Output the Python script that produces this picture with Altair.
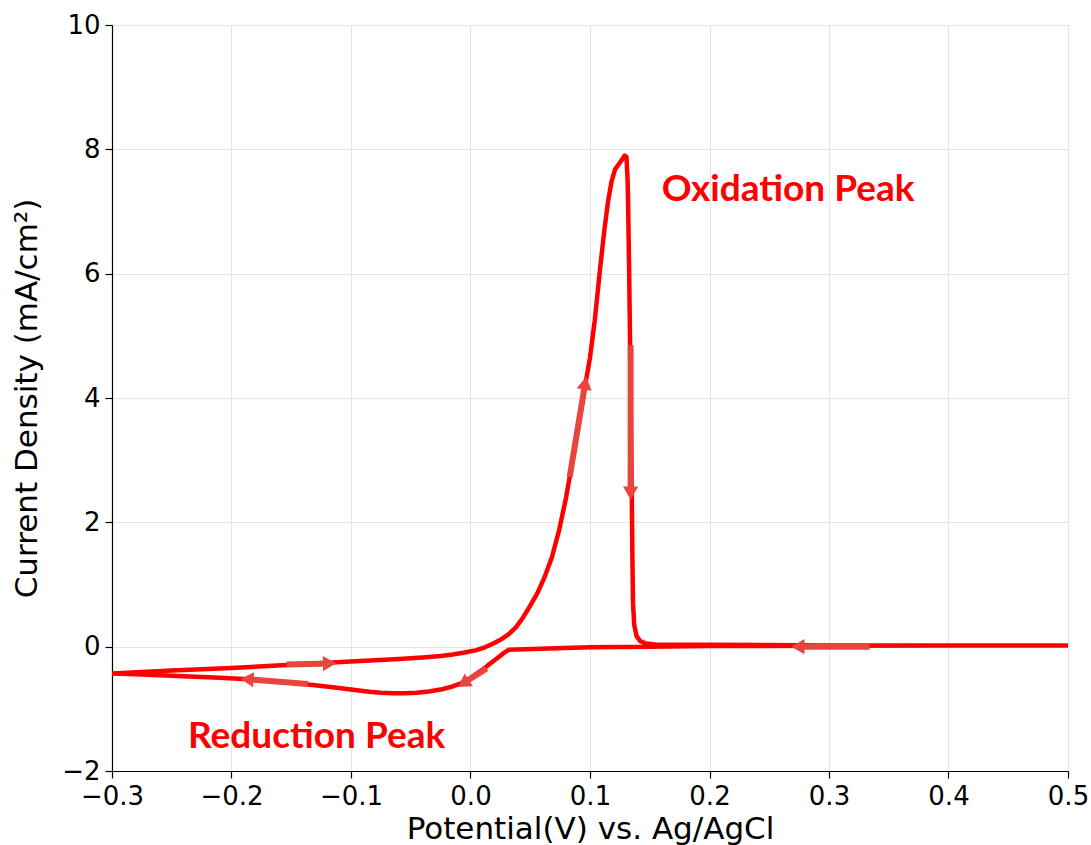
import math
import altair as alt
import pandas as pd

# ---- data ----
potential = [0.50, 0.40, 0.30, 0.20, 0.15, 0.10, 0.065, 0.032,
             0.028, 0.022, 0.016, 0.010, 0.004, -0.002, -0.008, -0.015, -0.025, -0.035,
             -0.045, -0.055, -0.065, -0.075, -0.085, -0.095, -0.11, -0.13, -0.15, -0.17,
             -0.19, -0.21, -0.23, -0.26, -0.28, -0.30,
             -0.25, -0.20, -0.15, -0.10, -0.06, -0.04, -0.025, -0.015, -0.005, 0.005,
             0.012, 0.018, 0.025, 0.032, 0.038, 0.044, 0.050, 0.056, 0.062, 0.068,
             0.074, 0.080, 0.085, 0.090, 0.095, 0.100, 0.104, 0.108, 0.112, 0.115,
             0.118, 0.121, 0.124, 0.127, 0.129, 0.1305, 0.1315, 0.132, 0.1328, 0.1335,
             0.1342, 0.135, 0.1355, 0.136, 0.137, 0.139, 0.142, 0.147, 0.155, 0.20,
             0.30, 0.40, 0.50]
current = [0.02, 0.02, 0.015, 0.01, 0.0, -0.01, -0.03, -0.05,
           -0.10, -0.19, -0.28, -0.37, -0.45, -0.53, -0.59, -0.64, -0.69, -0.72,
           -0.74, -0.75, -0.75, -0.74, -0.725, -0.70, -0.665, -0.62, -0.58, -0.545,
           -0.52, -0.50, -0.485, -0.46, -0.445, -0.43,
           -0.385, -0.345, -0.29, -0.24, -0.20, -0.175, -0.15, -0.125, -0.095, -0.055,
           -0.01, 0.04, 0.11, 0.20, 0.31, 0.47, 0.66, 0.86, 1.12, 1.43,
           1.86, 2.40, 2.95, 3.50, 4.10, 4.65, 5.25, 6.00, 6.70, 7.15,
           7.48, 7.68, 7.76, 7.84, 7.90, 7.88, 7.50, 7.00, 6.00, 4.90,
           3.60, 2.40, 1.40, 0.70, 0.35, 0.17, 0.09, 0.05, 0.035, 0.03,
           0.02, 0.02, 0.02]

# arrows: tail -> head
arrow_x1 = [-0.154, -0.136, 0.0135, 0.083, 0.134, 0.334]
arrow_y1 = [-0.285, -0.60, -0.35, 2.73, 4.85, 0.0]
arrow_x2 = [-0.118, -0.187, -0.006, 0.096, 0.134, 0.274]
arrow_y2 = [-0.27, -0.525, -0.59, 4.24, 2.47, 0.0]

labels = ["Oxidation Peak", "Reduction Peak"]
label_x = [0.160, -0.2364]
label_y = [7.35, -1.45]

x_ticks = [-0.3, -0.2, -0.1, 0.0, 0.1, 0.2, 0.3, 0.4, 0.5]
y_ticks = [-2, 0, 2, 4, 6, 8, 10]

W, H = 956, 746
XMIN, XMAX, YMIN, YMAX = -0.3, 0.5, -2, 10
px_x = W / (XMAX - XMIN)
px_y = H / (YMAX - YMIN)

curve = pd.DataFrame({"V": potential, "I": current, "order": range(len(potential))})

angles = []
for a, b, c, d in zip(arrow_x1, arrow_y1, arrow_x2, arrow_y2):
    dx = (c - a) * px_x
    dy = -(d - b) * px_y
    angles.append(math.degrees(math.atan2(dx, -dy)) % 360)
arrows = pd.DataFrame({"x1": arrow_x1, "y1": arrow_y1, "x2": arrow_x2, "y2": arrow_y2, "angle": angles})
texts = pd.DataFrame({"label": labels, "x": label_x, "y": label_y})

xscale = alt.Scale(domain=[XMIN, XMAX], nice=False, zero=False)
yscale = alt.Scale(domain=[YMIN, YMAX], nice=False, zero=False)

common = dict(grid=True, gridColor="#e4e4e4", gridWidth=1,
              domainColor="black", domainWidth=1.2, tickColor="black", tickSize=7, tickWidth=1.2,
              labelFont="DejaVu Sans", labelFontSize=26, labelColor="black", labelPadding=5,
              titleFont="DejaVu Sans", titleFontSize=31, titleFontWeight="normal",
              titleColor="black", labelFlush=False)
xaxis = alt.Axis(values=x_ticks, format=".1f", title="Potential(V) vs. Ag/AgCl",
                 titlePadding=5, **common)
yaxis = alt.Axis(values=y_ticks, format="d", title="Current Density (mA/cm²)",
                 titlePadding=18, **common)

line = alt.Chart(curve).mark_line(color="#ff0000", strokeWidth=4.5, strokeJoin="round",
                                  strokeCap="round", clip=True).encode(
    x=alt.X("V:Q", scale=xscale, axis=xaxis),
    y=alt.Y("I:Q", scale=yscale, axis=yaxis),
    order="order:Q",
)

shafts = alt.Chart(arrows).mark_rule(color="#e8453c", strokeWidth=6).encode(
    x=alt.X("x1:Q", scale=xscale), y=alt.Y("y1:Q", scale=yscale),
    x2="x2:Q", y2="y2:Q",
)

heads = alt.Chart(arrows).mark_point(shape="triangle-up", filled=True, color="#e8453c",
                                     size=230, opacity=1).encode(
    x=alt.X("x2:Q", scale=xscale), y=alt.Y("y2:Q", scale=yscale),
    angle=alt.Angle("angle:Q", scale=None),
)

text = alt.Chart(texts).mark_text(align="left", baseline="middle", font="Lato",
                                  fontWeight="bold", fontSize=37, color="#ff0000").encode(
    x=alt.X("x:Q", scale=xscale), y=alt.Y("y:Q", scale=yscale), text="label:N",
)

chart = alt.layer(line, shafts, heads, text).properties(
    width=W, height=H,
    padding={"left": 112, "top": 25, "right": 23, "bottom": 74},
    autosize="none",
).configure_view(stroke="black", strokeWidth=1.2).configure(background="white")

chart.save("out.html", embed_options={"renderer": "svg", "actions": False})
